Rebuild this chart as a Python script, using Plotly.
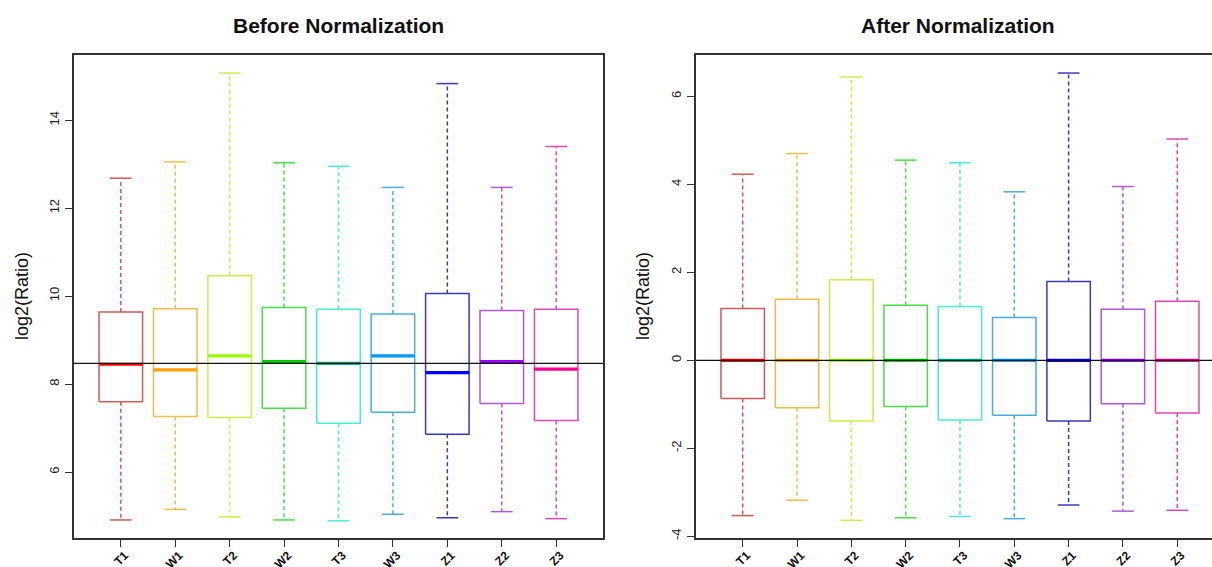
import plotly.graph_objects as go

# ---------------- data ----------------
samples = ["T1", "W1", "T2", "W2", "T3", "W3", "Z1", "Z2", "Z3"]

before_low = [4.91, 5.15, 4.98, 4.91, 4.89, 5.04, 4.96, 5.10, 4.94]
before_q1 = [7.60, 7.26, 7.24, 7.45, 7.11, 7.36, 6.86, 7.56, 7.17]
before_med = [8.45, 8.32, 8.64, 8.51, 8.47, 8.64, 8.26, 8.51, 8.34]
before_q3 = [9.64, 9.71, 10.46, 9.74, 9.70, 9.59, 10.06, 9.67, 9.70]
before_high = [12.68, 13.05, 15.07, 13.03, 12.95, 12.47, 14.83, 12.47, 13.40]
before_ref = 8.47

after_low = [-3.53, -3.18, -3.64, -3.58, -3.55, -3.60, -3.29, -3.43, -3.41]
after_q1 = [-0.87, -1.08, -1.38, -1.05, -1.36, -1.25, -1.38, -0.99, -1.20]
after_med = [0.0, 0.0, 0.0, 0.0, 0.0, 0.0, 0.0, 0.0, 0.0]
after_q3 = [1.18, 1.39, 1.83, 1.25, 1.22, 0.97, 1.79, 1.16, 1.34]
after_high = [4.23, 4.70, 6.44, 4.55, 4.49, 3.83, 6.53, 3.95, 5.03]
after_ref = 0.0

box_colors = ["#D05A5A", "#EDBE4C", "#CCEE4A", "#4ADD4A", "#4AEECB",
              "#4AAEDC", "#3A3AB8", "#AE5ADC", "#DC4AAE"]
median_colors = ["#FF0000", "#FFA000", "#99FF00", "#00C800", "#00B890",
                 "#0099FF", "#0000FF", "#9900FF", "#FF0099"]

# ---------------- geometry helpers ----------------
W, H = 1212, 567
ML, MR, MT, MB = 74, 0, 55, 29
PW = W - ML - MR
PH = H - MT - MB


def px_x(p):
    return (p - ML) / PW


def px_y(p):
    return (H - MB - p) / PH


BOX_HALF = 0.4
CAP_HALF = 0.2

fig = go.Figure()


def add_panel(xa, ya, low, q1, med, q3, high):
    for i, name in enumerate(samples):
        x = i + 1
        c = box_colors[i]
        # whiskers (dashed)
        fig.add_trace(go.Scatter(
            x=[x, x, None, x, x], y=[q3[i], high[i], None, q1[i], low[i]],
            mode="lines", line=dict(color=c, width=1.5, dash="4px,3px"),
            xaxis=xa, yaxis=ya, showlegend=False, hoverinfo="skip"))
        # caps
        fig.add_trace(go.Scatter(
            x=[x - CAP_HALF, x + CAP_HALF, None, x - CAP_HALF, x + CAP_HALF],
            y=[high[i], high[i], None, low[i], low[i]],
            mode="lines", line=dict(color=c, width=1.5),
            xaxis=xa, yaxis=ya, showlegend=False, hoverinfo="skip"))
        # box
        fig.add_trace(go.Scatter(
            x=[x - BOX_HALF, x + BOX_HALF, x + BOX_HALF, x - BOX_HALF, x - BOX_HALF],
            y=[q1[i], q1[i], q3[i], q3[i], q1[i]],
            mode="lines", line=dict(color=c, width=1.5),
            xaxis=xa, yaxis=ya, showlegend=False, name=name))
        # median
        fig.add_trace(go.Scatter(
            x=[x - BOX_HALF, x + BOX_HALF], y=[med[i], med[i]],
            mode="lines", line=dict(color=median_colors[i], width=3.2),
            xaxis=xa, yaxis=ya, showlegend=False, hoverinfo="skip"))


add_panel("x", "y", before_low, before_q1, before_med, before_q3, before_high)
add_panel("x2", "y2", after_low, after_q1, after_med, after_q3, after_high)

fig.add_shape(type="line", xref="x domain", yref="y", x0=0, x1=1,
              y0=before_ref, y1=before_ref,
              line=dict(color="#111111", width=1.2), layer="above")
fig.add_shape(type="line", xref="x2 domain", yref="y2", x0=0, x1=1,
              y0=after_ref, y1=after_ref,
              line=dict(color="#111111", width=1.2), layer="above")

font_family = "Liberation Sans, Arial, sans-serif"
tick_font = dict(family=font_family, size=13, color="#222222")
xtick_font = dict(family=font_family, size=12, color="#111111", weight="bold")

xcommon = dict(
    tickmode="array", tickvals=list(range(1, len(samples) + 1)), ticktext=samples,
    tickangle=-45, ticks="outside", ticklen=7, tickwidth=1.3, tickcolor="#333333",
    showline=True, linecolor="#333333", linewidth=1.5, mirror=True,
    showgrid=False, zeroline=False, tickfont=xtick_font, automargin=False,
    ticklabelstandoff=-3, ticklabelshift=4,
)
ycommon = dict(
    ticks="outside", ticklen=7, tickwidth=1.3, tickcolor="#333333",
    showline=True, linecolor="#333333", linewidth=1.5,
    showgrid=False, zeroline=False, tickfont=tick_font, tickangle=-90,
    ticklabelstandoff=1, automargin=False,
)

left_end = px_x(603)
right_start = px_x(696)

fig.update_layout(
    width=W, height=H,
    margin=dict(l=ML, r=MR, t=MT, b=MB),
    paper_bgcolor="white", plot_bgcolor="white",
    xaxis=dict(domain=[0, left_end], range=[0.14, 9.86], **xcommon),
    yaxis=dict(domain=[0, 1], range=[4.5, 15.48], tickvals=[6, 8, 10, 12, 14],
               mirror=True, **ycommon),
    xaxis2=dict(domain=[right_start, 1], range=[0.14, 9.64], anchor="y2", **xcommon),
    yaxis2=dict(domain=[0, 1], range=[-4.04, 6.94], tickvals=[-4, -2, 0, 2, 4, 6],
                ticktext=["-4", "-2", "0", "2", "4", "6"],
                anchor="x2", mirror=False, **ycommon),
    showlegend=False,
)

title_font = dict(family=font_family, size=21, color="#111111")
label_font = dict(family=font_family, size=18, color="#111111")
fig.add_annotation(text="<b>Before Normalization</b>", x=px_x(338), y=px_y(25),
                   xref="paper", yref="paper", showarrow=False, font=title_font,
                   xanchor="center", yanchor="middle")
fig.add_annotation(text="<b>After Normalization</b>", x=px_x(958), y=px_y(25),
                   xref="paper", yref="paper", showarrow=False, font=title_font,
                   xanchor="center", yanchor="middle")
fig.add_annotation(text="log2(Ratio)", x=px_x(22), y=px_y(296), textangle=-90,
                   xref="paper", yref="paper", showarrow=False, font=label_font,
                   xanchor="center", yanchor="middle")
fig.add_annotation(text="log2(Ratio)", x=px_x(643), y=px_y(296), textangle=-90,
                   xref="paper", yref="paper", showarrow=False, font=label_font,
                   xanchor="center", yanchor="middle")

fig.write_html("out.html", config={"displayModeBar": False},
               post_script="document.body.style.margin='0';document.body.style.overflow='hidden';")
